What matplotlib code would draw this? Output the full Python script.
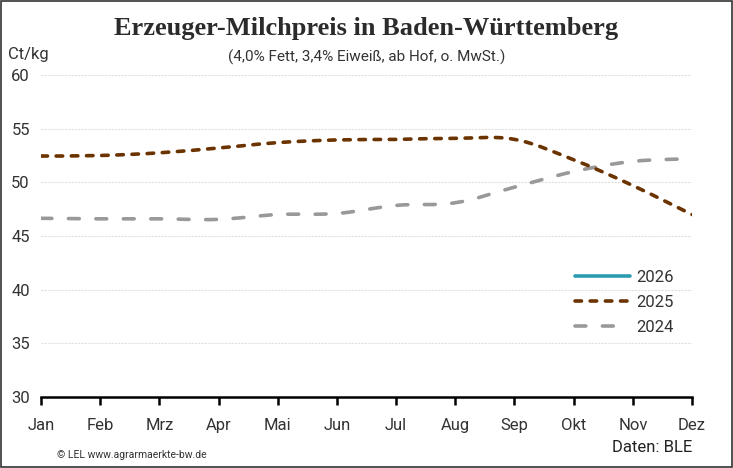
import matplotlib
matplotlib.use('Agg')
import matplotlib.pyplot as plt
from matplotlib.path import Path
from matplotlib.patches import PathPatch, Rectangle
from matplotlib.lines import Line2D
import numpy as np

months = ['Jan', 'Feb', 'Mrz', 'Apr', 'Mai', 'Jun', 'Jul', 'Aug', 'Sep', 'Okt', 'Nov', 'Dez']
p2026 = []
p2025 = [52.45, 52.5, 52.75, 53.2, 53.7, 53.95, 54.0, 54.1, 54.0, 52.1, 49.7, 47.0]
p2024 = [46.65, 46.6, 46.6, 46.55, 47.0, 47.1, 47.85, 48.1, 49.55, 51.0, 51.95, 52.2]
yticks = [30, 35, 40, 45, 50, 55, 60]

c2026 = '#2b9bb0'
c2025 = '#6b3300'
c2024 = '#999999'


def smooth_path(xs, ys, t=0.18):
    # catmull-rom style bezier through the points
    xs = np.asarray(xs, float)
    ys = np.asarray(ys, float)
    verts = [(xs[0], ys[0])]
    codes = [Path.MOVETO]
    n = len(xs)
    for i in range(n - 1):
        x0, y0 = (xs[i - 1], ys[i - 1]) if i > 0 else (xs[i], ys[i])
        x3, y3 = (xs[i + 2], ys[i + 2]) if i + 2 < n else (xs[i + 1], ys[i + 1])
        c1 = (xs[i] + (xs[i + 1] - x0) * t, ys[i] + (ys[i + 1] - y0) * t)
        c2 = (xs[i + 1] - (x3 - xs[i]) * t, ys[i + 1] - (y3 - ys[i]) * t)
        verts += [c1, c2, (xs[i + 1], ys[i + 1])]
        codes += [Path.CURVE4] * 3
    return Path(verts, codes)


fig = plt.figure(figsize=(7.33, 4.68), dpi=100)
fig.patches.append(Rectangle((0.001, 0.002), 0.997, 0.996, transform=fig.transFigure,
                             fill=False, edgecolor='#333333', lw=1.2))
ax = fig.add_axes([41 / 733, 1 - 397 / 468, 651 / 733, 322 / 468])

x = np.arange(len(months))
styles = {
    '2025': dict(color=c2025, lw=2.6, ls=(0, (1.8, 2.4))),
    '2024': dict(color=c2024, lw=2.6, ls=(0, (3.0, 4.6))),
}
for vals, key in [(p2024, '2024'), (p2025, '2025')]:
    st = styles[key]
    patch = PathPatch(smooth_path(x, vals), fill=False, edgecolor=st['color'],
                      lw=st['lw'], linestyle=st['ls'], capstyle='round', joinstyle='round')
    ax.add_patch(patch)
if len(p2026):
    ax.plot(x[:len(p2026)], p2026, color=c2026, lw=2.6)

ax.set_xlim(0, 11)
ax.set_ylim(30, 60)
ax.set_xticks(x)
ax.set_xticklabels(months)
ax.set_yticks(yticks)
for s in ['top', 'right', 'left']:
    ax.spines[s].set_visible(False)
ax.spines['bottom'].set_linewidth(1.8)
ax.spines['bottom'].set_color('black')
ax.tick_params(axis='x', length=6, width=1.8, pad=9, labelsize=12, labelcolor='#333333')
ax.tick_params(axis='y', length=0, pad=8, labelsize=12, labelcolor='#333333')
for lab in ax.get_xticklabels() + ax.get_yticklabels():
    lab.set_family('Roboto')
ax.grid(axis='y', color='#e0e0e0', lw=0.8, ls=(0, (2, 1)))
ax.set_axisbelow(True)

handles = [Line2D([], [], color=c2026, lw=2.6, solid_capstyle='round'),
           Line2D([], [], color=c2025, lw=2.6, ls=(0, (1.8, 2.4)), dash_capstyle='round'),
           Line2D([], [], color=c2024, lw=2.6, ls=(0, (3.0, 4.6, 3.0, 20)), dash_capstyle='round')]
ax.legend(handles, ['2026', '2025', '2024'], loc='lower right', bbox_to_anchor=(0.995, 0.145),
          frameon=False, handlelength=3.3, handletextpad=0.35, labelspacing=0.62,
          prop={'family': 'Roboto', 'size': 12}, labelcolor='#333333')

fig.text(0.5, 1 - 28 / 468, 'Erzeuger-Milchpreis in Baden-Württemberg', ha='center', va='center',
         family='Liberation Serif', weight='bold', size=19, color='#2b2b2b')
fig.text(0.5, 1 - 57 / 468, '(4,0% Fett, 3,4% Eiweiß, ab Hof, o. MwSt.)', ha='center', va='center',
         family='Roboto', size=11, color='#333333')
fig.text(8 / 733, 1 - 54 / 468, 'Ct/kg', ha='left', va='center', family='Roboto', size=12, color='#333333')
fig.text(692 / 733, 1 - 447 / 468, 'Daten: BLE', ha='right', va='center', family='Roboto', size=12,
         color='#222222')
fig.text(57 / 733, 1 - 455 / 468, '© LEL www.agrarmaerkte-bw.de', ha='left', va='center',
         family='Roboto', size=7.5, color='#333333')

fig.savefig('out.png', dpi=100)
